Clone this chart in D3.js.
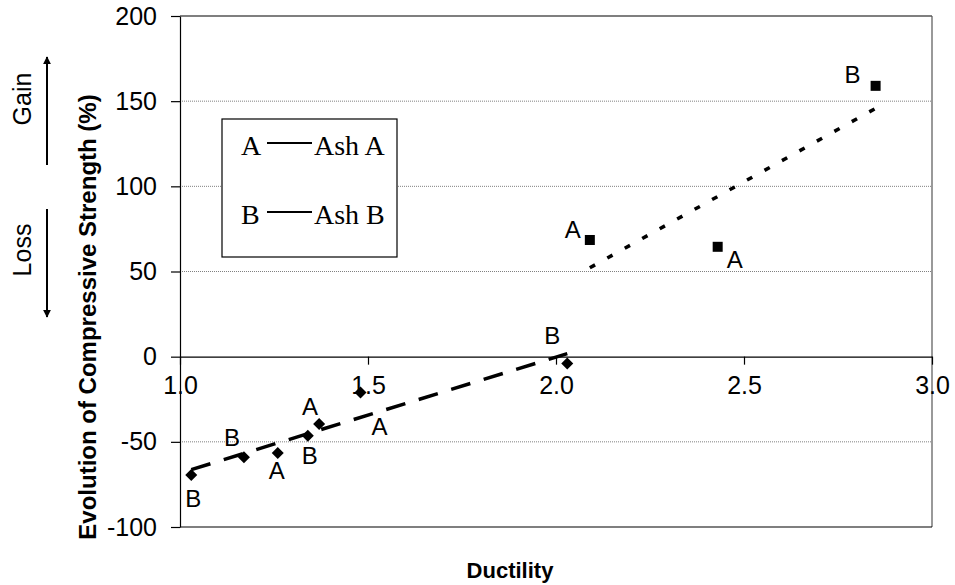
<!DOCTYPE html>
<html><head><meta charset="utf-8">
<script src="https://cdn.jsdelivr.net/npm/d3@7"></script>
<style>
body{margin:0;background:#fff}
svg text{font-family:Arial,"Liberation Sans",sans-serif;fill:#000}
</style>
</head><body>
<svg id="c" width="955" height="585"></svg>
<script>
// ---- data ----
const diamondX = [1.03, 1.17, 1.26, 1.34, 1.37, 1.48, 2.03];
const diamondY = [-69.5, -59, -56.5, -46.5, -39.5, -21, -4];
const diamondLabels = ["B", "B", "A", "B", "A", "A", "B"];
const squareX = [2.09, 2.43, 2.85];
const squareY = [68.5, 64.5, 159];
const squareLabels = ["A", "A", "B"];
const xTicks = [1.0, 1.5, 2.0, 2.5, 3.0];
const yTicks = [-100, -50, 0, 50, 100, 150, 200];
const gridValues = [-50, 50, 100, 150];
const legendKeys = ["A", "B"];
const legendNames = ["Ash A", "Ash B"];
const xTitle = "Ductility";
const yTitle = "Evolution of Compressive Strength (%)";

// ---- layout (label offsets in px) ----
const diamondLabelOffsets = [[2,23],[-12,-20],[-1,18],[2,20],[-9,-17],[19,34],[-15,-28]];
const squareLabelOffsets = [[-17,-10],[17,13],[-23,-11]];

const svg = d3.select("#c");
const L = 180, R = 932, T = 16, B = 527;
const x = d3.scaleLinear().domain([1, 3]).range([L, R]);
const y = d3.scaleLinear().domain([-100, 200]).range([B, T]);

// gridlines
svg.append("g").selectAll("line").data(gridValues).join("line")
  .attr("x1", L).attr("x2", R).attr("y1", d => y(d)).attr("y2", d => y(d))
  .attr("stroke", "#808080").attr("stroke-width", 1).attr("stroke-dasharray", "1,1");

// frame (top, right, bottom)
const frame = svg.append("g").attr("stroke", "#000").attr("stroke-width", 1.2);
frame.append("line").attr("x1", L).attr("x2", R).attr("y1", y(200)).attr("y2", y(200));
frame.append("line").attr("x1", R).attr("x2", R).attr("y1", y(200)).attr("y2", y(-100)).attr("stroke", "#555");
frame.append("line").attr("x1", L).attr("x2", R).attr("y1", y(-100)).attr("y2", y(-100));

// y axis
const yAxis = svg.append("g").attr("transform", `translate(${L},0)`)
  .call(d3.axisLeft(y).tickValues(yTicks).tickSize(9).tickSizeOuter(0).tickPadding(14).tickFormat(d => d));
yAxis.selectAll("path,line").attr("stroke", "#000").attr("stroke-width", 1.2);
yAxis.selectAll("text").style("font-size", "25px");

// x axis at y=0
const xAxis = svg.append("g").attr("transform", `translate(0,${y(0)})`)
  .call(d3.axisBottom(x).tickValues(xTicks).tickSize(8).tickSizeOuter(0).tickPadding(12).tickFormat(d3.format(".1f")));
xAxis.selectAll("path,line").attr("stroke", "#000").attr("stroke-width", 1.2);
xAxis.selectAll("text").style("font-size", "25px");

// trend lines (least squares)
function fit(xs, ys) {
  const mx = d3.mean(xs), my = d3.mean(ys);
  const sxy = d3.sum(xs, (v, i) => (v - mx) * (ys[i] - my));
  const sxx = d3.sum(xs, v => (v - mx) * (v - mx));
  const m = sxy / sxx, b = my - m * mx;
  const x0 = d3.min(xs), x1 = d3.max(xs);
  return [[x0, m * x0 + b], [x1, m * x1 + b]];
}
const line = d3.line().x(d => x(d[0])).y(d => y(d[1]));
svg.append("path").attr("d", line(fit(diamondX, diamondY)))
  .attr("fill", "none").attr("stroke", "#000").attr("stroke-width", 3.5).attr("stroke-dasharray", "20,14");
svg.append("path").attr("d", line(fit(squareX, squareY)))
  .attr("fill", "none").attr("stroke", "#000").attr("stroke-width", 3.5).attr("stroke-dasharray", "6,14");

// markers
const dData = diamondX.map((v, i) => ({x: v, y: diamondY[i], label: diamondLabels[i], off: diamondLabelOffsets[i]}));
const sData = squareX.map((v, i) => ({x: v, y: squareY[i], label: squareLabels[i], off: squareLabelOffsets[i]}));
svg.append("g").selectAll("path").data(dData).join("path")
  .attr("d", "M0,-6L6,0L0,6L-6,0Z")
  .attr("transform", d => `translate(${x(d.x)},${y(d.y)})`).attr("fill", "#000");
svg.append("g").selectAll("rect").data(sData).join("rect")
  .attr("x", d => x(d.x) - 5).attr("y", d => y(d.y) - 5).attr("width", 10).attr("height", 10).attr("fill", "#000");

// point labels
svg.append("g").selectAll("text").data(dData.concat(sData)).join("text")
  .attr("x", d => x(d.x) + d.off[0]).attr("y", d => y(d.y) + d.off[1])
  .attr("text-anchor", "middle").attr("dominant-baseline", "central")
  .style("font-size", "24px").text(d => d.label);

// legend box
const lg = svg.append("g");
lg.append("rect").attr("x", 222).attr("y", 119).attr("width", 175).attr("height", 138)
  .attr("fill", "#fff").attr("stroke", "#000").attr("stroke-width", 1.2);
legendKeys.forEach((k, i) => {
  const by = 155 + i * 69;
  lg.append("text").attr("x", 241).attr("y", by).style("font-family", "'Liberation Serif','Times New Roman',serif")
    .style("font-size", "28px").text(k);
  lg.append("line").attr("x1", 267).attr("x2", 312).attr("y1", by - 12).attr("y2", by - 12)
    .attr("stroke", "#000").attr("stroke-width", 2);
  lg.append("text").attr("x", 314).attr("y", by).style("font-family", "'Liberation Serif','Times New Roman',serif")
    .style("font-size", "28px").text(legendNames[i]);
});

// axis titles
svg.append("text").attr("x", 510).attr("y", 578).attr("text-anchor", "middle")
  .style("font-size", "22px").style("font-weight", "bold").text(xTitle);
svg.append("text").attr("transform", `translate(96,317) rotate(-90)`).attr("text-anchor", "middle")
  .style("font-size", "24px").style("font-weight", "bold").text(yTitle);

// Gain / Loss with arrows
svg.append("defs").append("marker").attr("id", "ah").attr("viewBox", "0 0 10 10")
  .attr("refX", 9).attr("refY", 5).attr("markerWidth", 4).attr("markerHeight", 4).attr("orient", "auto")
  .append("path").attr("d", "M0,0L10,5L0,10Z").attr("fill", "#000");
svg.append("line").attr("x1", 47).attr("x2", 47).attr("y1", 165).attr("y2", 57)
  .attr("stroke", "#000").attr("stroke-width", 2).attr("marker-end", "url(#ah)");
svg.append("line").attr("x1", 47).attr("x2", 47).attr("y1", 209).attr("y2", 317)
  .attr("stroke", "#000").attr("stroke-width", 2).attr("marker-end", "url(#ah)");
svg.append("text").attr("transform", "translate(31,99) rotate(-90)").attr("text-anchor", "middle")
  .style("font-size", "25px").text("Gain");
svg.append("text").attr("transform", "translate(31,250) rotate(-90)").attr("text-anchor", "middle")
  .style("font-size", "25px").text("Loss");
</script>
</body></html>
